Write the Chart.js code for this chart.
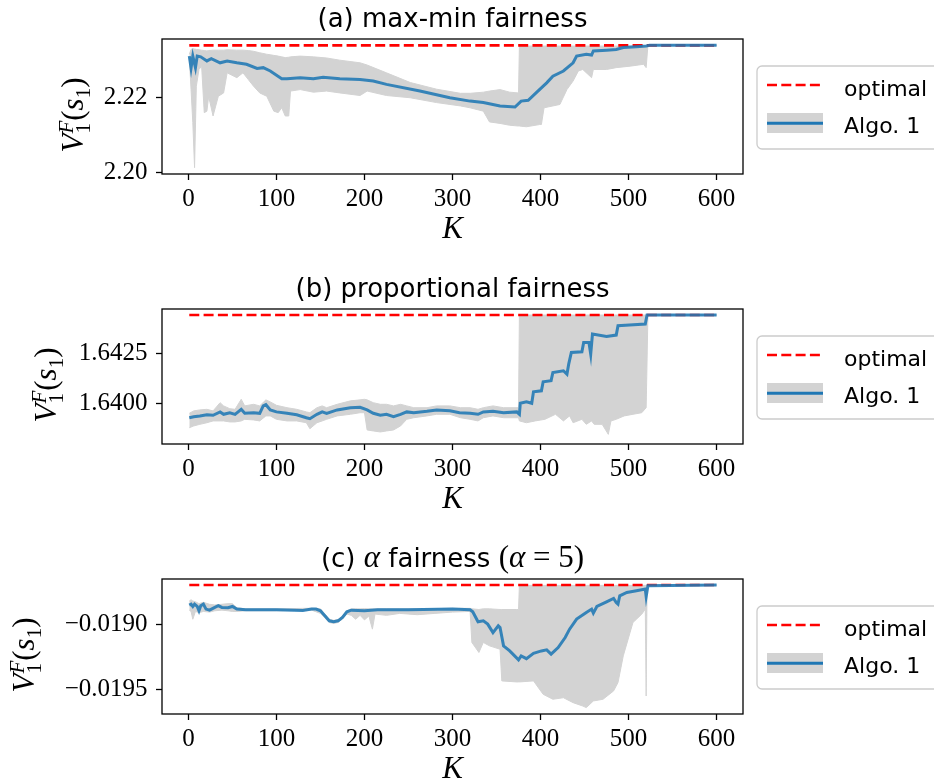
<!DOCTYPE html>
<html>
<head>
<meta charset="utf-8">
<script src="https://cdn.jsdelivr.net/npm/chart.js@4.4.0/dist/chart.umd.min.js"></script>
<style>
body{margin:0;background:#fff;width:934px;height:782px;overflow:hidden;position:relative}
canvas{position:absolute;left:0}
</style>
</head>
<body>
<canvas id="ca" width="934" height="270" style="top:0"></canvas>
<canvas id="cb" width="934" height="270" style="top:270px"></canvas>
<canvas id="cc" width="934" height="242" style="top:540px"></canvas>
<script>
// x axis (shared layout)
const xTicks = [0, 100, 200, 300, 400, 500, 600];

// (a) max-min fairness
const kMeanA = [1,3,5,8,10,14,21,26,36,44,55,66,78,85,93,106,112,127,142,153,172,195,210,225,263,297,320,335,354,371,378,386,397,407,414,426,437,441,452,458,460,475,486,494,509,520,524,600];
const meanA = [2.2312,2.2280,2.2312,2.2281,2.2312,2.2310,2.2299,2.2305,2.2294,2.2299,2.2294,2.2290,2.2279,2.2281,2.2272,2.2251,2.2251,2.2254,2.2251,2.2255,2.2251,2.2249,2.2245,2.2236,2.2218,2.2200,2.2191,2.2187,2.2178,2.2175,2.2191,2.2193,2.2218,2.2240,2.2258,2.2272,2.2294,2.2312,2.2317,2.2315,2.2326,2.2328,2.2330,2.2335,2.2337,2.2339,2.2341,2.2341];
const kBandA = [1,3,5,7,9,12,15,18,21,23,28,34,40,44,55,62,68,74,81,89,97,102,106,110,114,116,127,142,157,172,195,203,225,252,282,309,320,335,342,354,365,375,376,384,399,401,404,422,430,437,443,448,458,460,475,486,502,517,520,522,600];
const lowA = [2.2308,2.2222,2.2133,2.2012,2.2231,2.2276,2.2285,2.2160,2.2164,2.2204,2.2151,2.2204,2.2213,2.2267,2.2254,2.2267,2.2249,2.2231,2.2213,2.2204,2.2164,2.2160,2.2173,2.2151,2.2151,2.2218,2.2222,2.2215,2.2218,2.2213,2.2206,2.2218,2.2206,2.2200,2.2187,2.2178,2.2173,2.2164,2.2135,2.2131,2.2126,2.2124,2.2124,2.2122,2.2128,2.2128,2.2173,2.2182,2.2222,2.2245,2.2272,2.2276,2.2254,2.2276,2.2276,2.2281,2.2285,2.2290,2.2281,2.2341,2.2341];
const highA = [2.2317,2.2330,2.2332,2.2331,2.2330,2.2329,2.2328,2.2327,2.2326,2.2327,2.2328,2.2328,2.2328,2.2329,2.2328,2.2328,2.2327,2.2325,2.2321,2.2317,2.2314,2.2312,2.2310,2.2308,2.2309,2.2310,2.2312,2.2310,2.2307,2.2301,2.2294,2.2288,2.2267,2.2241,2.2223,2.2212,2.2212,2.2215,2.2218,2.2222,2.2215,2.2213,2.2339,2.2339,2.2339,2.2339,2.2339,2.2339,2.2339,2.2339,2.2339,2.2339,2.2339,2.2339,2.2339,2.2339,2.2339,2.2339,2.2339,2.2341,2.2341];
const optA = 2.2341;
const yTicksA = [2.20, 2.22];
const yLabelsA = ['2.20', '2.22'];

// (b) proportional fairness
const kMeanB = [1,6,13,21,28,36,40,47,53,60,64,74,81,85,88,93,100,112,123,134,138,146,152,157,169,184,195,203,210,218,225,233,241,248,256,271,282,297,308,320,329,335,346,358,373,376,377,384,390,392,401,403,412,414,426,430,432,435,447,449,455,457,459,475,486,488,501,519,521,600];
const meanB = [1.63928,1.63933,1.63937,1.63943,1.63940,1.63957,1.63945,1.63953,1.63945,1.63970,1.63950,1.63953,1.63950,1.63987,1.63993,1.63967,1.63957,1.63950,1.63943,1.63928,1.63923,1.63945,1.63957,1.63950,1.63967,1.63978,1.63980,1.63967,1.63950,1.63940,1.63945,1.63933,1.63945,1.63957,1.63953,1.63960,1.63967,1.63963,1.63953,1.63950,1.63945,1.63957,1.63960,1.63953,1.63957,1.63945,1.64000,1.64007,1.64000,1.64057,1.64062,1.64107,1.64113,1.64153,1.64162,1.64145,1.64195,1.64253,1.64257,1.64303,1.64303,1.64245,1.64345,1.64333,1.64340,1.64387,1.64390,1.64395,1.64440,1.64440];
const kBandB = [1,6,13,21,28,36,40,47,53,60,64,74,81,88,93,100,112,123,134,138,146,152,157,169,184,195,200,203,210,218,225,233,241,248,256,271,282,297,309,320,329,335,346,358,375,376,384,394,405,417,426,433,437,447,452,458,461,470,477,480,486,495,505,515,520,522,600];
const lowB = [1.63878,1.63887,1.63895,1.63903,1.63912,1.63912,1.63912,1.63907,1.63907,1.63912,1.63920,1.63917,1.63912,1.63937,1.63937,1.63920,1.63912,1.63912,1.63903,1.63873,1.63903,1.63912,1.63920,1.63937,1.63945,1.63953,1.63953,1.63867,1.63862,1.63857,1.63862,1.63867,1.63887,1.63920,1.63928,1.63937,1.63945,1.63945,1.63928,1.63920,1.63912,1.63928,1.63937,1.63928,1.63928,1.63912,1.63903,1.63912,1.63920,1.63945,1.63912,1.63937,1.63903,1.63920,1.63895,1.63912,1.63895,1.63895,1.63845,1.63912,1.63920,1.63937,1.63945,1.63953,1.63978,1.64440,1.64440];
const highB = [1.63950,1.63962,1.63967,1.63970,1.63962,1.64003,1.63987,1.63973,1.63970,1.64020,1.63987,1.63995,1.63987,1.64017,1.64007,1.63990,1.63978,1.63970,1.63957,1.63953,1.63978,1.63987,1.63978,1.63995,1.64012,1.64017,1.64020,1.64017,1.64003,1.63995,1.63995,1.63987,1.63995,1.63987,1.63978,1.63978,1.63987,1.63987,1.63978,1.63978,1.63970,1.63978,1.63987,1.63978,1.63978,1.64440,1.64440,1.64440,1.64440,1.64440,1.64440,1.64440,1.64440,1.64440,1.64440,1.64440,1.64440,1.64440,1.64440,1.64440,1.64440,1.64440,1.64440,1.64440,1.64440,1.64440,1.64440];
const optB = 1.6444;
const yTicksB = [1.6400, 1.6425];
const yLabelsB = ['1.6400', '1.6425'];

// (c) alpha fairness (alpha = 5)
const kMeanC = [1,3,5,7,10,12,14,17,20,24,30,34,38,45,50,55,65,100,130,140,145,150,155,160,165,170,175,180,185,200,215,250,300,320,323,329,335,340,346,352,354,358,365,375,378,384,392,401,407,412,420,428,433,441,452,458,460,464,475,483,486,488,490,498,509,519,520,522,600];
const meanC = [-0.018851,-0.018844,-0.018862,-0.018844,-0.018862,-0.018895,-0.018856,-0.018844,-0.018882,-0.018890,-0.018869,-0.018856,-0.018869,-0.018872,-0.018862,-0.018882,-0.018887,-0.018887,-0.018892,-0.018882,-0.018882,-0.018895,-0.018933,-0.018972,-0.018979,-0.018972,-0.018946,-0.018903,-0.018890,-0.018895,-0.018887,-0.018887,-0.018882,-0.018887,-0.018903,-0.018979,-0.018972,-0.018997,-0.019062,-0.019010,-0.019023,-0.019164,-0.019203,-0.019272,-0.019241,-0.019262,-0.019221,-0.019203,-0.019195,-0.019228,-0.019177,-0.019100,-0.019036,-0.018959,-0.018908,-0.018882,-0.018913,-0.018862,-0.018826,-0.018800,-0.018831,-0.018844,-0.018780,-0.018754,-0.018741,-0.018728,-0.018785,-0.018703,-0.018697];
const kBandC = [1,3,5,8,12,17,24,30,38,45,50,55,65,100,140,150,155,160,165,170,175,180,185,190,195,200,205,209,212,225,240,260,280,300,320,322,330,335,342,354,356,373,375,376,392,403,414,426,437,448,452,460,471,483,488,494,505,515,519,520,521,600];
const lowC = [-0.018890,-0.018900,-0.018960,-0.018900,-0.018910,-0.018900,-0.018905,-0.018895,-0.018890,-0.018895,-0.018900,-0.018900,-0.018895,-0.018895,-0.018890,-0.018915,-0.018950,-0.018985,-0.018992,-0.018985,-0.018958,-0.018920,-0.018930,-0.018960,-0.018930,-0.018965,-0.018935,-0.019036,-0.018920,-0.018930,-0.018915,-0.018925,-0.018915,-0.018905,-0.018900,-0.019138,-0.019215,-0.019138,-0.019164,-0.019190,-0.019433,-0.019441,-0.019441,-0.019441,-0.019433,-0.019536,-0.019574,-0.019562,-0.019600,-0.019626,-0.019638,-0.019587,-0.019574,-0.019510,-0.019446,-0.019241,-0.018985,-0.018921,-0.018882,-0.019549,-0.018697,-0.018697];
const highC = [-0.018820,-0.018810,-0.018820,-0.018825,-0.018840,-0.018830,-0.018845,-0.018850,-0.018845,-0.018840,-0.018840,-0.018870,-0.018880,-0.018880,-0.018875,-0.018880,-0.018920,-0.018960,-0.018968,-0.018962,-0.018935,-0.018895,-0.018880,-0.018880,-0.018880,-0.018878,-0.018880,-0.018880,-0.018880,-0.018880,-0.018880,-0.018880,-0.018878,-0.018876,-0.018876,-0.018880,-0.018885,-0.018880,-0.018880,-0.018885,-0.018885,-0.018885,-0.018885,-0.018700,-0.018700,-0.018700,-0.018700,-0.018700,-0.018700,-0.018700,-0.018700,-0.018700,-0.018700,-0.018700,-0.018700,-0.018700,-0.018700,-0.018700,-0.018700,-0.018700,-0.018697,-0.018697];
const optC = -0.018697;
const yTicksC = [-0.0195, -0.0190];
const yLabelsC = ['\u22120.0195', '\u22120.0190'];

const GRAY = '#d3d3d3', BLUE = 'rgba(31,119,180,0.88)', RED = '#ff0000';
const SANS = '"DejaVu Sans", sans-serif';
const SERIF = '"Liberation Serif", serif';
const T_SANS = '26px ' + SANS, T_MI = 'italic 31px ' + SERIF, T_MR = '31px ' + SERIF;
const SUB_R = '21px ' + SERIF, SUB_I = 'italic 21px ' + SERIF;
const tickFont = { family: "'Liberation Serif', serif", size: 25 };

const yLab = [
  { t: 'V', f: T_MI },
  { t: '1', f: SUB_R, dy: 7, adv: false },
  { t: 'F', f: SUB_I, dy: -10 },
  { t: '(', f: T_MR },
  { t: 's', f: T_MI },
  { t: '1', f: SUB_R, dy: 7 },
  { t: ')', f: T_MR }
];

const pts = (k, v) => k.map((x, i) => ({ x: x, y: v[i] }));

function runsWidth(ctx, runs) {
  let w = 0;
  runs.forEach(r => { ctx.font = r.f; if (r.adv !== false) w += ctx.measureText(r.t).width; });
  return w;
}
function drawRuns(ctx, runs, cx, y) {
  let x = cx - runsWidth(ctx, runs) / 2;
  ctx.textAlign = 'left'; ctx.textBaseline = 'alphabetic';
  runs.forEach(r => {
    ctx.font = r.f;
    ctx.fillText(r.t, x, y + (r.dy || 0));
    if (r.adv !== false) x += ctx.measureText(r.t).width;
  });
}

function drawLegend(ctx) {
  ctx.save();
  const x = 757, y = 66, w = 190, h = 83, r = 5;
  ctx.beginPath();
  ctx.moveTo(x + r, y); ctx.lineTo(x + w - r, y); ctx.arcTo(x + w, y, x + w, y + r, r);
  ctx.lineTo(x + w, y + h - r); ctx.arcTo(x + w, y + h, x + w - r, y + h, r);
  ctx.lineTo(x + r, y + h); ctx.arcTo(x, y + h, x, y + h - r, r);
  ctx.lineTo(x, y + r); ctx.arcTo(x, y, x + r, y, r); ctx.closePath();
  ctx.fillStyle = 'rgba(255,255,255,0.8)'; ctx.fill();
  ctx.strokeStyle = '#cccccc'; ctx.lineWidth = 1.3; ctx.stroke();

  ctx.strokeStyle = RED; ctx.lineWidth = 2.7; ctx.setLineDash([10, 4.3]);
  ctx.beginPath(); ctx.moveTo(767, 85); ctx.lineTo(823, 85); ctx.stroke();
  ctx.setLineDash([]);
  ctx.fillStyle = GRAY; ctx.fillRect(767, 113, 56, 20);
  ctx.strokeStyle = '#1f77b4'; ctx.lineWidth = 3;
  ctx.beginPath(); ctx.moveTo(767, 123.3); ctx.lineTo(823, 123.3); ctx.stroke();

  ctx.fillStyle = '#000'; ctx.font = '22px ' + SANS; ctx.textAlign = 'left'; ctx.textBaseline = 'alphabetic';
  ctx.fillText('optimal', 844, 95.5);
  ctx.fillText('Algo. 1', 844, 133);
  ctx.restore();
}

function drawDeco(chart, p) {
  const ctx = chart.ctx, a = chart.chartArea;
  const cx = (a.left + a.right) / 2;
  ctx.save();
  ctx.strokeStyle = '#000'; ctx.lineWidth = 1.3;
  ctx.strokeRect(a.left, a.top, a.right - a.left, a.bottom - a.top);
  ctx.fillStyle = '#000';
  drawRuns(ctx, p.title, cx, 27);
  drawRuns(ctx, [{ t: 'K', f: T_MI }], cx, 238);
  ctx.save();
  ctx.translate(p.ylabX, 115); ctx.rotate(-Math.PI / 2);
  drawRuns(ctx, yLab, 0, 0);
  ctx.restore();
  ctx.restore();
  drawLegend(ctx);
}

function plot(id, p) {
  const canvas = document.getElementById(id);
  const H = canvas.height;
  const n = p.kMean.length;
  const axisGrid = { drawOnChartArea: false, tickLength: 6, tickWidth: 1.3, tickColor: '#000' };
  return new Chart(canvas, {
    type: 'line',
    data: {
      datasets: [
        { data: pts(p.kBand, p.low), borderColor: GRAY, backgroundColor: GRAY, borderWidth: 1, pointRadius: 0, fill: false, order: 3 },
        { data: pts(p.kBand, p.high), borderColor: GRAY, backgroundColor: GRAY, borderWidth: 1, pointRadius: 0, fill: '-1', order: 2 },
        { data: [{ x: p.kMean[0], y: p.opt }, { x: p.kMean[n - 1], y: p.opt }], borderColor: RED, borderWidth: 2.7, borderDash: [10, 4.3], pointRadius: 0, fill: false, order: 1 },
        { data: pts(p.kMean, p.mean), borderColor: BLUE, borderWidth: 3, pointRadius: 0, fill: false, order: 0 }
      ]
    },
    options: {
      responsive: false, animation: false, devicePixelRatio: 1,
      layout: { padding: { top: 39, right: 191, left: 0, bottom: 0 } },
      plugins: { legend: { display: false }, tooltip: { enabled: false } },
      scales: {
        x: {
          type: 'linear', min: -30, max: 630,
          afterBuildTicks: s => { s.ticks = xTicks.map(v => ({ value: v })); },
          afterFit: s => { s.height = H - 174; },
          ticks: { font: tickFont, color: '#000', padding: 4, maxRotation: 0, autoSkip: false },
          grid: axisGrid, border: { display: false }
        },
        y: {
          min: p.yMin, max: p.yMax,
          afterBuildTicks: s => { s.ticks = p.yTicks.map(v => ({ value: v })); },
          afterFit: s => { s.width = 162; },
          ticks: { font: tickFont, color: '#000', padding: 8.5, callback: (v, i) => p.yLabels[i] },
          grid: axisGrid, border: { display: false }
        }
      }
    },
    plugins: [{ id: 'deco', afterDraw: c => drawDeco(c, p) }]
  });
}

plot('ca', {
  kMean: kMeanA, mean: meanA, kBand: kBandA, low: lowA, high: highA, opt: optA,
  yMin: 2.1995, yMax: 2.2358, yTicks: yTicksA, yLabels: yLabelsA, ylabX: 83,
  title: [{ t: '(a) max-min fairness', f: T_SANS }]
});
plot('cb', {
  kMean: kMeanB, mean: meanB, kBand: kBandB, low: lowB, high: highB, opt: optB,
  yMin: 1.63797, yMax: 1.6447, yTicks: yTicksB, yLabels: yLabelsB, ylabX: 56,
  title: [{ t: '(b) proportional fairness', f: T_SANS }]
});
plot('cc', {
  kMean: kMeanC, mean: meanC, kBand: kBandC, low: lowC, high: highC, opt: optC,
  yMin: -0.019687, yMax: -0.018651, yTicks: yTicksC, yLabels: yLabelsC, ylabX: 34,
  title: [
    { t: '(c) ', f: T_SANS }, { t: '\u03b1', f: T_MI }, { t: ' fairness ', f: T_SANS },
    { t: '(', f: T_MR }, { t: '\u03b1', f: T_MI }, { t: ' = 5)', f: T_MR }
  ]
});
</script>
</body>
</html>
